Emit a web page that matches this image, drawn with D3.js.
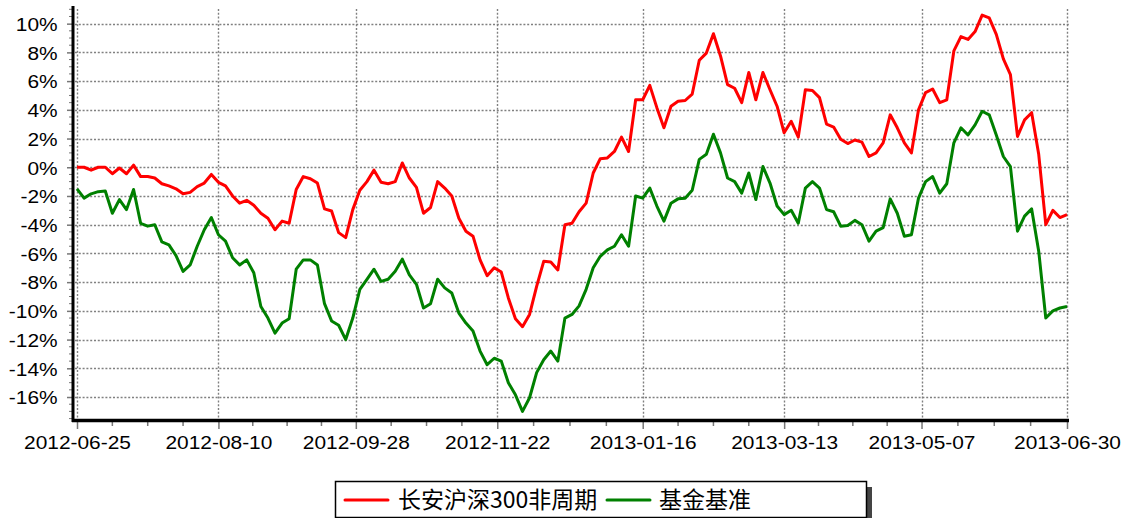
<!DOCTYPE html>
<html>
<head>
<meta charset="utf-8">
<script src="https://cdn.jsdelivr.net/npm/d3@7"></script>
<style>
  body { margin: 0; background: #fff; }
  text { font-family: "Liberation Sans", Arial, sans-serif; }
</style>
</head>
<body>
<div id="chart"></div>
<script>
// tick labels on the trading-day axis
var dateLabels = ["2012-06-25", "2012-08-10", "2012-09-28", "2012-11-22",
                  "2013-01-16", "2013-03-13", "2013-05-07", "2013-06-30"];
var labelDays = [0, 35, 69, 104, 140, 175, 209, 245];

var seriesNames = ["长安沪深300非周期", "基金基准"];

// cumulative return (%), evenly spaced over the period
var redValues = [
  0, 0, -0.2, 0, 0, -0.45, -0.05, -0.45, 0.15, -0.65,
  -0.65, -0.75, -1.15, -1.3, -1.5, -1.85, -1.75, -1.35, -1.1, -0.5,
  -1.05, -1.3, -2.0, -2.5, -2.3, -2.65, -3.2, -3.55, -4.35, -3.75,
  -3.9, -1.55, -0.65, -0.8, -1.1, -2.9, -3.05, -4.55, -4.9, -2.95,
  -1.6, -1.0, -0.2, -1.05, -1.15, -1.0, 0.3, -0.75, -1.4, -3.2,
  -2.8, -1.0, -1.45, -2.0, -3.55, -4.45, -4.8, -6.45, -7.55, -7.0,
  -7.3, -9.1, -10.55, -11.1, -10.25, -8.3, -6.55, -6.6, -7.15, -4.0,
  -3.9, -3.1, -2.5, -0.4, 0.6, 0.65, 1.1, 2.1, 1.1, 4.7,
  4.7, 5.7, 4.15, 2.75, 4.25, 4.6, 4.65, 5.1, 7.45, 7.95,
  9.3, 7.75, 5.75, 5.5, 4.5, 6.6, 4.7, 6.6, 5.4, 4.25,
  2.4, 3.2, 2.1, 5.4, 5.35, 4.85, 3.0, 2.8, 1.95, 1.65,
  1.9, 1.75, 0.75, 1.0, 1.7, 3.65, 2.75, 1.7, 1.0, 4.0,
  5.2, 5.45, 4.5, 4.7, 8.1, 9.1, 8.9, 9.45, 10.6, 10.4,
  9.25, 7.55, 6.45, 2.15, 3.3, 3.8, 0.9, -4.0, -3.0, -3.5,
  -3.3
];
var greenValues = [
  -1.5, -2.15, -1.85, -1.7, -1.65, -3.2, -2.25, -2.95, -1.55, -3.9,
  -4.1, -4.0, -5.2, -5.4, -6.15, -7.25, -6.8, -5.5, -4.35, -3.5,
  -4.7, -5.15, -6.3, -6.8, -6.45, -7.35, -9.7, -10.5, -11.55, -10.85,
  -10.55, -7.1, -6.45, -6.45, -6.8, -9.5, -10.7, -11.0, -12.0, -10.5,
  -8.5, -7.8, -7.1, -7.95, -7.8, -7.25, -6.4, -7.5, -8.15, -9.8,
  -9.5, -7.8, -8.4, -8.75, -10.15, -10.85, -11.4, -12.8, -13.75, -13.3,
  -13.5, -15.0, -15.85, -17.0, -16.05, -14.3, -13.4, -12.8, -13.5, -10.5,
  -10.25, -9.65, -8.5, -7.0, -6.2, -5.75, -5.5, -4.7, -5.5, -2.0,
  -2.15, -1.45, -2.7, -3.75, -2.5, -2.2, -2.15, -1.6, 0.55, 0.9,
  2.3, 1.0, -0.75, -1.0, -1.8, -0.4, -2.25, 0.05, -1.1, -2.7,
  -3.3, -3.0, -3.9, -1.45, -1.0, -1.45, -2.95, -3.1, -4.1, -4.05,
  -3.7, -4.0, -5.15, -4.45, -4.2, -2.2, -3.2, -4.8, -4.7, -2.15,
  -1.0, -0.65, -1.8, -1.15, 1.7, 2.75, 2.25, 2.95, 3.9, 3.65,
  2.25, 0.75, 0.05, -4.45, -3.4, -2.9, -5.85, -10.5, -10.0, -9.8,
  -9.7
];
var yTicks = [-16, -14, -12, -10, -8, -6, -4, -2, 0, 2, 4, 6, 8, 10];

var width = 1127, height = 518;

var svg = d3.select("#chart").append("svg")
    .attr("width", width)
    .attr("height", height);

svg.append("rect").attr("width", width).attr("height", height).attr("fill", "#fff");

var x = d3.scaleLinear().domain([0, 245]).range([77, 1067]);
var y = d3.scaleLinear().domain([-17.6, 11.16]).range([420, 7]);
var step = 245 / (redValues.length - 1);

// grid
var grid = svg.append("g")
    .attr("stroke", "#808080")
    .attr("stroke-width", 1.4)
    .attr("stroke-dasharray", "2,1.8");

grid.selectAll(".hg")
  .data(yTicks)
  .enter()
  .append("line")
    .attr("x1", 75)
    .attr("x2", 1069)
    .attr("y1", function(d) { return Math.round(y(d)) + 0.5 })
    .attr("y2", function(d) { return Math.round(y(d)) + 0.5 });

grid.selectAll(".vg")
  .data(labelDays)
  .enter()
  .append("line")
    .attr("x1", function(d) { return Math.round(x(d)) + 0.5 })
    .attr("x2", function(d) { return Math.round(x(d)) + 0.5 })
    .attr("y1", 9)
    .attr("y2", 420);

// minor ticks on the y axis, every 0.5%
var minorY = d3.range(-17.5, 11.01, 0.5).filter(function(d) { return d % 2 !== 0 });
svg.append("g")
  .selectAll("line")
  .data(minorY)
  .enter()
  .append("line")
    .attr("x1", 69)
    .attr("x2", 72)
    .attr("y1", function(d) { return y(d) })
    .attr("y2", function(d) { return y(d) })
    .attr("stroke", "#777")
    .attr("stroke-width", 1);

// y axis
var yAxis = svg.append("g")
    .attr("transform", "translate(73,0)")
    .call(d3.axisLeft(y).tickValues(yTicks).tickSize(6).tickFormat(function(d) { return d + "%" }));
yAxis.select(".domain").remove();
yAxis.selectAll(".tick line").attr("stroke", "#777").attr("stroke-width", 1.5);
yAxis.selectAll(".tick text")
    .attr("x", -14)
    .attr("dy", "0.36em")
    .attr("transform", "scale(1.1,1)")
    .style("font-size", "19px")
    .attr("fill", "#000");

// minor ticks on the x axis
var minorX = [];
for (var i = 0; i < labelDays.length - 1; i++) {
  var a = x(labelDays[i]), b = x(labelDays[i + 1]);
  for (var k = 1; k < 4; k++) minorX.push(a + (b - a) * k / 4);
}
svg.append("g")
  .selectAll("line")
  .data(minorX)
  .enter()
  .append("line")
    .attr("x1", function(d) { return d })
    .attr("x2", function(d) { return d })
    .attr("y1", 421)
    .attr("y2", 426)
    .attr("stroke", "#777")
    .attr("stroke-width", 1.5);

// x axis
var xAxis = svg.append("g")
    .attr("transform", "translate(0,420)")
    .call(d3.axisBottom(x).tickValues(labelDays).tickSize(9)
          .tickFormat(function(d, i) { return dateLabels[i] }));
xAxis.select(".domain").remove();
xAxis.selectAll(".tick line").attr("stroke", "#777").attr("stroke-width", 1.5);
xAxis.selectAll(".tick text")
    .attr("y", 16)
    .attr("transform", "scale(1.1,1)")
    .style("font-size", "19px")
    .attr("fill", "#000");

// axis lines
svg.append("line")
    .attr("x1", 73).attr("x2", 73).attr("y1", 6).attr("y2", 422)
    .attr("stroke", "#000").attr("stroke-width", 3);
svg.append("line")
    .attr("x1", 72).attr("x2", 1069).attr("y1", 420.5).attr("y2", 420.5)
    .attr("stroke", "#000").attr("stroke-width", 3.5);

// series
var line = d3.line()
    .x(function(d, i) { return x(i * step) })
    .y(function(d) { return y(d) });

svg.append("path")
    .datum(greenValues)
    .attr("d", line)
    .attr("fill", "none")
    .attr("stroke", "#008000")
    .attr("stroke-width", 3)
    .attr("stroke-linejoin", "round");

svg.append("path")
    .datum(redValues)
    .attr("d", line)
    .attr("fill", "none")
    .attr("stroke", "#ff0000")
    .attr("stroke-width", 3)
    .attr("stroke-linejoin", "round");

// legend
var legend = svg.append("g");
legend.append("rect")
    .attr("x", 867).attr("y", 487).attr("width", 5).attr("height", 31)
    .attr("fill", "#444");
legend.append("rect")
    .attr("x", 335.5).attr("y", 481.5).attr("width", 531).attr("height", 36)
    .attr("fill", "#fff").attr("stroke", "#000").attr("stroke-width", 1.5);

var legendItems = [
  {name: seriesNames[0], color: "#ff0000", x0: 345, tx: 398},
  {name: seriesNames[1], color: "#008000", x0: 607, tx: 659}
];
legendItems.forEach(function(d) {
  legend.append("line")
      .attr("x1", d.x0).attr("x2", d.x0 + 43)
      .attr("y1", 500).attr("y2", 500)
      .attr("stroke", d.color).attr("stroke-width", 3).attr("stroke-linecap", "round");
  legend.append("text")
      .attr("x", d.tx).attr("y", 500).attr("dy", "0.36em")
      .style("font-family", "'Noto Sans CJK SC', 'Liberation Sans', sans-serif")
      .style("font-size", "23px")
      .attr("fill", "#000")
      .text(d.name);
});
</script>
</body>
</html>
